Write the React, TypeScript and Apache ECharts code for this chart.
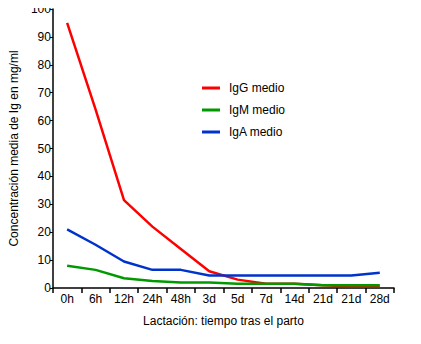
import React, { useEffect, useRef } from "react";
import * as echarts from "echarts";

const categories = ["0h", "6h", "12h", "24h", "48h", "3d", "5d", "7d", "14d", "21d", "21d", "28d"];
const igG = [95, 64, 31.5, 22, 14, 6, 3, 1.5, 1.5, 1, 0.5, 0.5];
const igM = [8, 6.5, 3.5, 2.5, 2, 2, 1.5, 1.5, 1.5, 1, 1, 1];
const igA = [21, 15.5, 9.5, 6.5, 6.5, 4.5, 4.5, 4.5, 4.5, 4.5, 4.5, 5.5];
const yTicks = { min: 0, max: 100, interval: 10 };

export default function App() {
  const ref = useRef<HTMLDivElement>(null);
  useEffect(() => {
    const chart = echarts.init(ref.current!, null, { renderer: "svg" });
    const font = "Liberation Sans, Arial, sans-serif";
    chart.setOption({
      animation: false,
      textStyle: { fontFamily: font },
      grid: { left: 43, right: 27, top: 9, bottom: 56 },
      legend: {
        orient: "vertical",
        left: 197,
        top: 77,
        itemWidth: 18,
        itemHeight: 3,
        itemGap: 10,
        icon: "rect",
        textStyle: { fontFamily: font, fontSize: 12, color: "#000", padding: [0, 0, 0, 4] },
        data: [
          { name: "IgG medio", itemStyle: { color: "#ff0000" } },
          { name: "IgM medio", itemStyle: { color: "#009900" } },
          { name: "IgA medio", itemStyle: { color: "#0033cc" } },
        ],
      },
      xAxis: {
        type: "category",
        data: categories,
        boundaryGap: true,
        name: "Lactación: tiempo tras el parto",
        nameLocation: "middle",
        nameGap: 27,
        nameTextStyle: { fontFamily: font, fontSize: 12, color: "#000" },
        axisLine: { show: true, lineStyle: { color: "#000000", width: 1.5 } },
        axisTick: { show: true, length: 5, lineStyle: { color: "#000000", width: 1.5 } },
        axisLabel: { color: "#000", fontSize: 12, fontFamily: font, margin: 5, interval: 0 },
        splitLine: { show: false },
      },
      yAxis: {
        type: "value",
        min: yTicks.min,
        max: yTicks.max,
        interval: yTicks.interval,
        name: "Concentración media de Ig en mg/ml",
        nameLocation: "middle",
        nameGap: 30,
        nameRotate: 90,
        nameTextStyle: { fontFamily: font, fontSize: 12, color: "#000" },
        axisLine: { show: true, lineStyle: { color: "#000", width: 1.5 } },
        axisTick: { show: true, length: 3, lineStyle: { color: "#000" } },
        axisLabel: { color: "#000", fontSize: 12, fontFamily: font, margin: 2 },
        splitLine: { show: false },
      },
      series: [
        { name: "IgG medio", type: "line", data: igG, symbol: "none", lineStyle: { color: "#ff0000", width: 2.5 }, itemStyle: { color: "#ff0000" } },
        { name: "IgM medio", type: "line", data: igM, symbol: "none", lineStyle: { color: "#009900", width: 2.5 }, itemStyle: { color: "#009900" } },
        { name: "IgA medio", type: "line", data: igA, symbol: "none", lineStyle: { color: "#0033cc", width: 2.5 }, itemStyle: { color: "#0033cc" } },
      ],
    });
    return () => chart.dispose();
  }, []);
  return <div ref={ref} style={{ width: 421, height: 344, margin: -8 }} />;
}
